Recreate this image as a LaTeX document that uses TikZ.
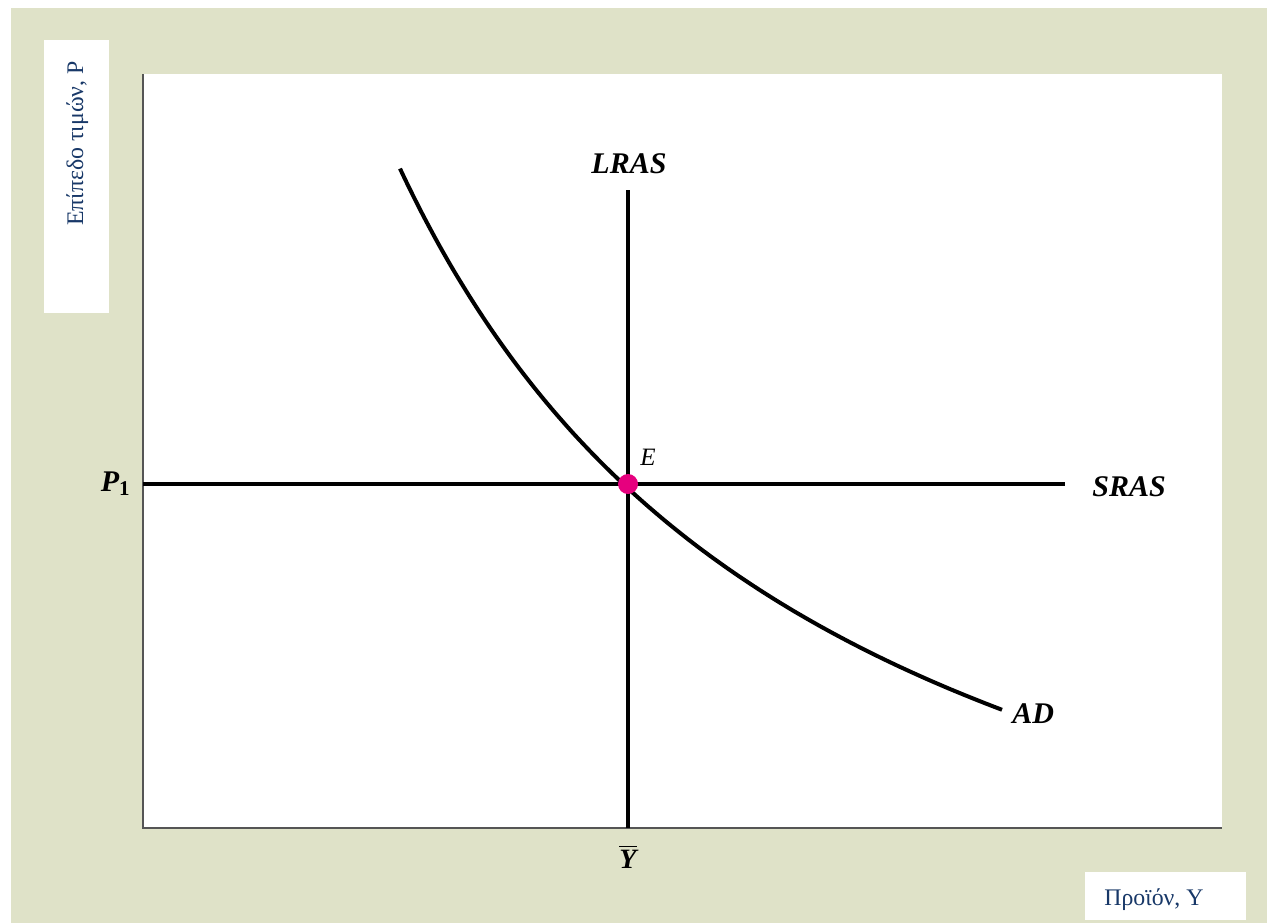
\documentclass[tikz,border=0pt]{standalone}
\usepackage{fontspec}
\setmainfont{Liberation Serif}
\definecolor{beige}{RGB}{223,226,200}
\definecolor{axisgray}{RGB}{85,85,85}
\definecolor{labelblue}{RGB}{24,56,104}
\definecolor{eqmag}{RGB}{230,0,126}
\tikzset{
  curveline/.style={line width=2pt,black},
  axisline/.style={line width=1.1pt,axisgray},
  curvelabel/.style={inner sep=0pt,font=\fontsize{15}{18}\selectfont\bfseries\itshape},
  greeklabel/.style={inner sep=0pt,text=labelblue,font=\fontsize{11.9}{14}\selectfont},
  labelbox/.style={fill=white,draw=none}
}
\begin{document}
\begin{tikzpicture}[x=0.5pt,y=-0.5pt]
\useasboundingbox (0,0) rectangle (1267,923);
\fill[white] (0,0) rectangle (1267,923);
\fill[beige] (11,8) rectangle (1267,923);
% plot area
\fill[white] (143,74) rectangle (1222,828);
\coordinate (O) at (143,828);
\coordinate (ytop) at (143,74);
\coordinate (xend) at (1222,828);
\draw[axisline] (ytop) -- (O) -- (xend);
% label boxes
\fill[labelbox] (44,40) rectangle (109,313);
\fill[labelbox] (1085,872) rectangle (1246,920);
\node[greeklabel,rotate=90,anchor=base west] (ylab) at (83,226) {Επίπεδο τιμών, P};
\node[greeklabel,anchor=base west] (xlab) at (1104,905) {Προϊόν, Y};
% LRAS
\coordinate (lrasTop) at (628,190);
\coordinate (lrasBot) at (628,828);
\draw[curveline] (lrasTop) -- (lrasBot);
\node[curvelabel,anchor=base] (lras) at (629,173) {LRAS};
% SRAS
\coordinate (srasL) at (143,484);
\coordinate (srasR) at (1065,484);
\draw[curveline] (srasL) -- (srasR);
\node[curvelabel,anchor=base west] (sras) at (1092,496) {SRAS};
% AD curve
\draw[curveline] plot[domain=400:1002,samples=120,smooth] (\x,{1105-414.636/((\x+39.7)*0.001)});
\node[curvelabel,anchor=base west] (ad) at (1012,723) {AD};
% labels
\node[curvelabel,anchor=base east] (p1) at (131,491) {P\textsubscript{\upshape 1}};
\node[curvelabel,anchor=base] (ybar) at (628,868) {$\overline{\mbox{\fontsize{14}{16}\selectfont\bfseries\itshape Y}}$};
\node[inner sep=0pt,anchor=base west,font=\fontsize{12.5}{15}\selectfont\itshape] (elab) at (640,465) {E};
% equilibrium point
\node[circle,fill=eqmag,minimum size=10pt,inner sep=0pt] (E) at (628,484) {};
\end{tikzpicture}
\end{document}
